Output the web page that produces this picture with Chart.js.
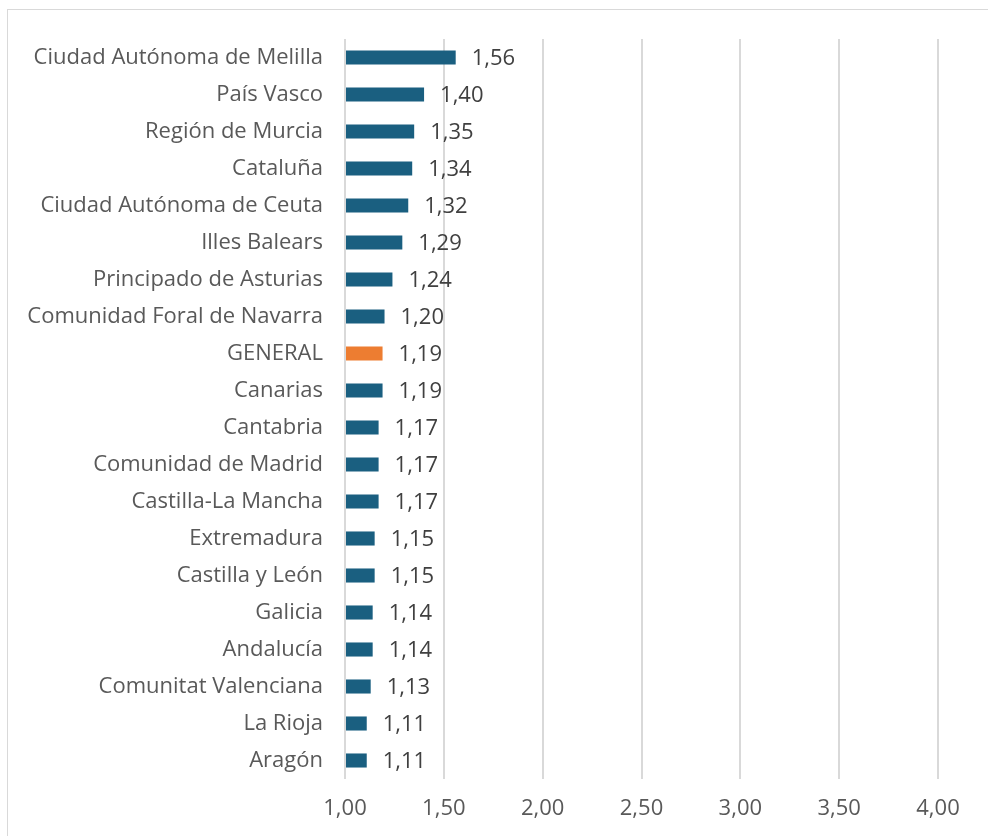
<!DOCTYPE html>
<html>
<head>
<meta charset="utf-8">
<script src="https://cdn.jsdelivr.net/npm/chart.js@4"></script>
<style>
  html, body { margin: 0; padding: 0; background: #fff; overflow: hidden; }
  #frame { position: absolute; left: 7px; top: 9px; width: 1000px; height: 900px; border: 1px solid #d9d9d9; }
  #wrap { position: absolute; left: 0; top: 0; width: 988px; height: 836px; }
</style>
</head>
<body>
<div id="frame"></div>
<div id="wrap"><canvas id="bar-chart"></canvas></div>
<script>
const regiones = [
    'Ciudad Autónoma de Melilla', 'País Vasco', 'Región de Murcia', 'Cataluña',
    'Ciudad Autónoma de Ceuta', 'Illes Balears', 'Principado de Asturias',
    'Comunidad Foral de Navarra', 'GENERAL', 'Canarias', 'Cantabria',
    'Comunidad de Madrid', 'Castilla-La Mancha', 'Extremadura', 'Castilla y León',
    'Galicia', 'Andalucía', 'Comunitat Valenciana', 'La Rioja', 'Aragón'
];
const valores = [1.56, 1.40, 1.35, 1.34, 1.32, 1.29, 1.24, 1.20, 1.19, 1.19,
    1.17, 1.17, 1.17, 1.15, 1.15, 1.14, 1.14, 1.13, 1.11, 1.11];
const ticksX = [1.00, 1.50, 2.00, 2.50, 3.00, 3.50, 4.00];

const fuente = "'Open Sans', sans-serif";
const fmt = v => v.toFixed(2).replace('.', ',');

// etiquetas de valor a la derecha de cada barra
const etiquetas = {
    id: 'etiquetas',
    afterDatasetsDraw(chart) {
        const ctx = chart.ctx;
        const meta = chart.getDatasetMeta(0);
        ctx.save();
        ctx.font = '22px ' + fuente;
        ctx.fillStyle = '#404040';
        ctx.textBaseline = 'middle';
        ctx.textAlign = 'left';
        meta.data.forEach((bar, i) => {
            ctx.fillText(fmt(valores[i]), bar.x + 16, bar.y + 1);
        });
        ctx.restore();
    }
};

function barchart() {
    new Chart(document.getElementById('bar-chart'), {
        type: 'bar',
        data: {
            labels: regiones,
            datasets: [{
                data: valores,
                backgroundColor: regiones.map(r => r === 'GENERAL' ? '#ed7d31' : '#1a5f80'),
                borderWidth: 0,
                base: 1,
                barPercentage: 0.38,
                categoryPercentage: 1
            }]
        },
        options: {
            indexAxis: 'y',
            responsive: true,
            maintainAspectRatio: false,
            animation: false,
            layout: { padding: { left: 0, top: 39, right: 50, bottom: 0 } },
            plugins: { legend: { display: false }, tooltip: { enabled: false } },
            scales: {
                x: {
                    min: 1,
                    max: 4,
                    afterBuildTicks: s => { s.ticks = ticksX.map(v => ({ value: v })); },
                    afterFit: s => { s.height = 57; },
                    border: { display: false },
                    grid: { color: '#d9d9d9', lineWidth: 2, drawTicks: false },
                    ticks: {
                        padding: 17,
                        color: '#595959',
                        font: { family: fuente, size: 22 },
                        callback: v => fmt(v)
                    }
                },
                y: {
                    afterFit: s => { s.width = 345; },
                    border: { display: false },
                    grid: { display: false, drawTicks: false },
                    ticks: {
                        padding: 22,
                        color: '#595959',
                        font: { family: fuente, size: 22 }
                    }
                }
            }
        },
        plugins: [etiquetas]
    });
}

barchart();
</script>
</body>
</html>
